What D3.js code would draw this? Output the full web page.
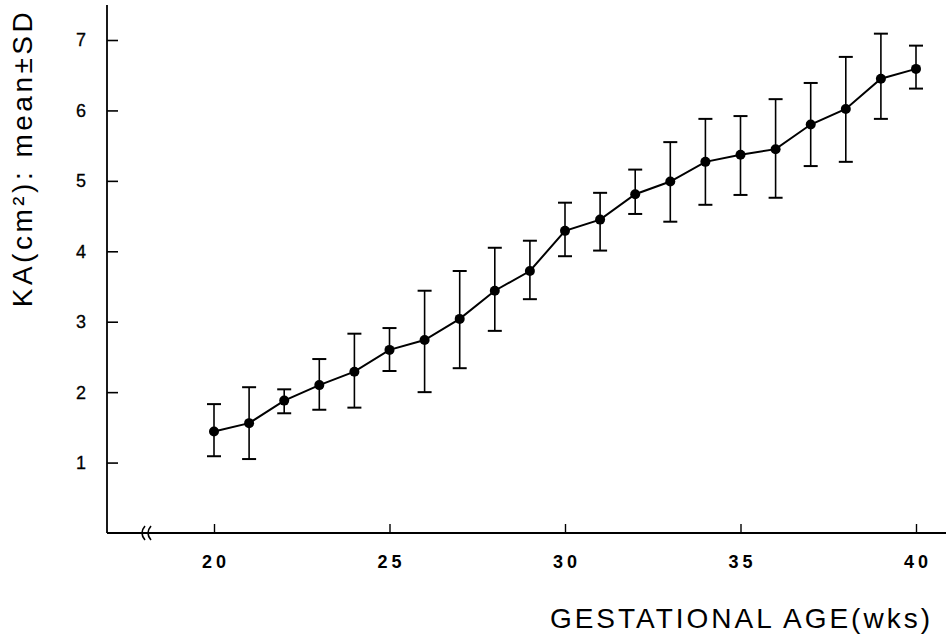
<!DOCTYPE html>
<html><head><meta charset="utf-8">
<script src="https://cdn.jsdelivr.net/npm/d3@7"></script>
<style>body{margin:0;background:#fff}svg{display:block}</style>
</head><body>
<script>
const weeks = [20,21,22,23,24,25,26,27,28,29,30,31,32,33,34,35,36,37,38,39,40];
const means = [1.44,1.56,1.88,2.10,2.29,2.60,2.74,3.04,3.44,3.72,4.29,4.45,4.81,4.99,5.27,5.37,5.45,5.80,6.02,6.45,6.59];
const upper = [1.83,2.07,2.04,2.47,2.83,2.91,3.44,3.72,4.05,4.15,4.69,4.83,5.16,5.55,5.88,5.92,6.16,6.39,6.76,7.09,6.92];
const lower = [1.09,1.05,1.70,1.75,1.78,2.30,2.00,2.34,2.87,3.32,3.93,4.01,4.53,4.42,4.66,4.80,4.76,5.21,5.27,5.88,6.31];
const xTicks = [20,25,30,35,40];
const yTicks = [1,2,3,4,5,6,7];
const xTitle = "GESTATIONAL AGE(wks)";
const yTitle = "KA(cm²): mean±SD";

const W = 946, H = 641;
const FONT = "Liberation Sans, Arial, sans-serif";
const svg = d3.select("body").append("svg").attr("width", W).attr("height", H);
const x = d3.scaleLinear().domain([20,40]).range([214,916]);
const y = d3.scaleLinear().domain([0,7]).range([533,40]);
const x0 = 107;

// y axis
const yAxis = svg.append("g").attr("transform", `translate(${x0},0)`)
  .call(d3.axisRight(y).tickValues(yTicks).tickSize(11).tickFormat(""));
yAxis.select(".domain").remove();
yAxis.selectAll("line").attr("stroke","#000").attr("stroke-width",1.6);
svg.append("line").attr("x1",x0).attr("x2",x0).attr("y1",5).attr("y2",y(0))
  .attr("stroke","#000").attr("stroke-width",1.8);
svg.append("g").selectAll("text").data(yTicks).join("text")
  .attr("x",81).attr("y",d=>y(d)).attr("dy","0.36em").attr("text-anchor","middle")
  .attr("font-family",FONT).attr("font-size",18).attr("font-weight",500)
  .attr("stroke","#000").attr("stroke-width",0.3)
  .text(d=>d);

// x axis
svg.append("line").attr("x1",x0).attr("x2",W).attr("y1",y(0)).attr("y2",y(0))
  .attr("stroke","#000").attr("stroke-width",1.8);
const xAxis = svg.append("g").attr("transform", `translate(0,${y(0)})`)
  .call(d3.axisTop(x).tickValues(xTicks).tickSize(9).tickFormat(""));
xAxis.select(".domain").remove();
xAxis.selectAll("line").attr("stroke","#000").attr("stroke-width",1.4);
svg.append("g").selectAll("text").data(xTicks).join("text")
  .attr("x",d=>x(d)+2).attr("y",562).attr("dy","0.36em").attr("text-anchor","middle")
  .attr("font-family",FONT).attr("font-size",18)
  .attr("font-weight","bold").attr("letter-spacing","4px")
  .text(d=>d);

// axis break marks
const brk = svg.append("g").attr("fill","none").attr("stroke","#000").attr("stroke-width",1.6);
[141,147].forEach(bx=>{
  brk.append("path").attr("d",`M${bx+4},${y(0)-7} Q${bx-2},${y(0)} ${bx+4},${y(0)+7}`);
});

// error bars
const eb = svg.append("g").attr("stroke","#000").attr("stroke-width",1.6);
weeks.forEach((w,i)=>{
  const cx = x(w);
  eb.append("line").attr("x1",cx).attr("x2",cx).attr("y1",y(upper[i])).attr("y2",y(lower[i]));
  eb.append("line").attr("x1",cx-7).attr("x2",cx+7).attr("y1",y(upper[i])).attr("y2",y(upper[i])).attr("stroke-width",2);
  eb.append("line").attr("x1",cx-7).attr("x2",cx+7).attr("y1",y(lower[i])).attr("y2",y(lower[i])).attr("stroke-width",2);
});

// line
svg.append("path").datum(weeks.map((w,i)=>[w,means[i]]))
  .attr("fill","none").attr("stroke","#000").attr("stroke-width",2)
  .attr("d", d3.line().x(d=>x(d[0])).y(d=>y(d[1])));
svg.append("g").selectAll("circle").data(weeks).join("circle")
  .attr("cx",d=>x(d)).attr("cy",(d,i)=>y(means[i])).attr("r",5).attr("fill","#000");

// titles
svg.append("text").attr("x",933).attr("y",618).attr("dy","0.36em").attr("text-anchor","end")
  .attr("font-family",FONT).attr("font-size",28)
  .attr("letter-spacing","3px").text(xTitle);
svg.append("text").attr("transform","translate(22,158) rotate(-90)").attr("dy","0.36em")
  .attr("text-anchor","middle")
  .attr("font-family",FONT).attr("font-size",28)
  .attr("letter-spacing","3.5px").text(yTitle);
</script>
</body></html>
